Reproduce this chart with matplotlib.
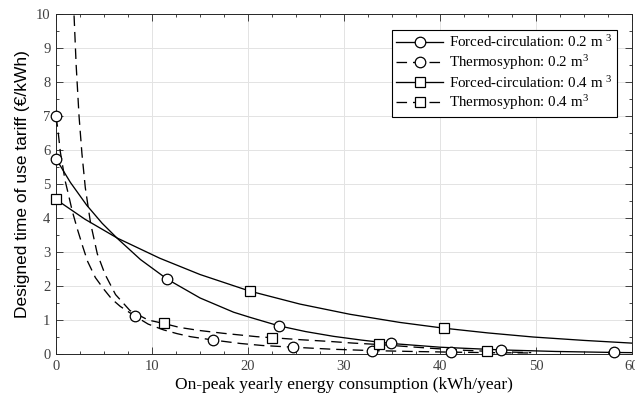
import matplotlib
matplotlib.use("Agg")
import matplotlib.pyplot as plt
from matplotlib.lines import Line2D
from matplotlib.ticker import MultipleLocator

plt.rcParams['mathtext.fontset'] = 'custom'
plt.rcParams['mathtext.rm'] = 'Liberation Serif'
plt.rcParams['mathtext.it'] = 'Liberation Serif:italic'

# ---- data ----
forced_02_x = [0, 1.5, 3.2, 4.8, 6.4, 8.8, 11.6, 15.0, 18.5, 20.2, 23.2, 26.0, 28.9, 31.8, 34.9, 40.0, 46.4, 52.0, 58.1, 60.0]
forced_02_y = [5.75, 5.05, 4.38, 3.85, 3.4, 2.78, 2.2, 1.65, 1.23, 1.08, 0.83, 0.66, 0.52, 0.41, 0.31, 0.2, 0.12, 0.075, 0.045, 0.04]
forced_02_mx = [0, 11.6, 23.2, 34.9, 46.4, 58.1]
forced_02_my = [5.75, 2.2, 0.83, 0.31, 0.12, 0.045]

thermo_02_x = [0, 0.2, 0.45, 0.95, 1.25, 1.7, 2.2, 2.8, 3.3, 4.1, 5.0, 5.8, 6.7, 8.2, 9.6, 11.2, 12.6, 14.0, 16.4, 19.2, 21.5, 24.7, 28.8, 32.9, 37.0, 41.1, 45.0, 49.5]
thermo_02_y = [7.0, 6.6, 5.95, 5.1, 4.75, 4.2, 3.7, 3.15, 2.72, 2.25, 1.9, 1.62, 1.4, 1.12, 0.88, 0.71, 0.6, 0.51, 0.41, 0.31, 0.25, 0.2, 0.14, 0.1, 0.075, 0.055, 0.04, 0.03]
thermo_02_mx = [0, 8.2, 16.4, 24.7, 32.9, 41.1]
thermo_02_my = [7.0, 1.12, 0.41, 0.2, 0.1, 0.055]

forced_04_x = [0, 3.0, 6.4, 10.8, 15.0, 20.2, 25.4, 30.6, 35.8, 40.4, 45.0, 49.7, 55.0, 60.0]
forced_04_y = [4.55, 3.97, 3.41, 2.82, 2.34, 1.85, 1.47, 1.17, 0.93, 0.76, 0.62, 0.5, 0.4, 0.32]
forced_04_mx = [0, 20.2, 40.4]
forced_04_my = [4.55, 1.85, 0.76]

thermo_04_x = [1.72, 1.875, 2.1, 2.4, 2.7, 3.05, 3.6, 4.3, 5.1, 6.2, 7.7, 9.6, 11.2, 12.9, 15.0, 17.4, 20.9, 22.5, 25.5, 28.5, 31.0, 33.6, 36.5, 39.5, 42.5, 44.9, 47.0, 49.5]
thermo_04_y = [11.0, 10.0, 8.5, 7.0, 5.9, 4.9, 3.85, 2.95, 2.35, 1.75, 1.28, 1.0, 0.9, 0.78, 0.69, 0.61, 0.51, 0.48, 0.42, 0.37, 0.32, 0.28, 0.22, 0.16, 0.11, 0.08, 0.06, 0.04]
thermo_04_mx = [11.2, 22.5, 33.6, 44.9]
thermo_04_my = [0.9, 0.48, 0.28, 0.08]

labels = ["Forced-circulation: 0.2 m $^3$",
          "Thermosyphon: 0.2 m$^3$",
          "Forced-circulation: 0.4 m $^3$",
          "Thermosyphon: 0.4 m$^3$"]

x_ticks = [0, 10, 20, 30, 40, 50, 60]
y_ticks = [0, 1, 2, 3, 4, 5, 6, 7, 8, 9, 10]

# ---- figure ----
fig = plt.figure(figsize=(6.35, 4.03), dpi=100)
ax = fig.add_axes([0.0882, 0.1216, 0.9071, 0.8429])

dash = (0, (8, 4.5))
lw = 0.95
series = [
    (forced_02_x, forced_02_y, forced_02_mx, forced_02_my, '-', 'o', 7.6),
    (thermo_02_x, thermo_02_y, thermo_02_mx, thermo_02_my, dash, 'o', 7.6),
    (forced_04_x, forced_04_y, forced_04_mx, forced_04_my, '-', 's', 6.8),
    (thermo_04_x, thermo_04_y, thermo_04_mx, thermo_04_my, dash, 's', 6.8),
]
handles = []
for (x, y, mx, my, ls, mk, ms), lab in zip(series, labels):
    ax.plot(x, y, color='black', lw=lw, linestyle=ls, zorder=3)
    ax.plot(mx, my, linestyle='none', marker=mk, ms=ms, mfc='white',
            mec='black', mew=0.9, zorder=4, clip_on=False)
    handles.append(Line2D([], [], color='black', lw=lw, linestyle=ls,
                          marker=mk, ms=ms, mfc='white', mec='black', mew=0.9))

ax.set_xlim(0, 60)
ax.set_ylim(0, 10)
ax.set_xticks(x_ticks)
ax.set_yticks(y_ticks)
ax.xaxis.set_minor_locator(MultipleLocator(2.5))
ax.yaxis.set_minor_locator(MultipleLocator(0.5))

tick_color = '#404040'
ax.tick_params(which='both', direction='in', top=True, right=True,
               color='#262626', width=0.6)
ax.tick_params(which='major', length=5, labelsize=10.5, labelcolor=tick_color, pad=4)
ax.tick_params(which='minor', length=2.5)
for lab in ax.get_xticklabels() + ax.get_yticklabels():
    lab.set_family('Liberation Serif')

for s in ax.spines.values():
    s.set_color('#262626')
    s.set_linewidth(0.7)

ax.grid(True, which='major', color='#e3e3e3', lw=0.7, zorder=0)
ax.set_axisbelow(True)

ax.set_xlabel("On-peak yearly energy consumption (kWh/year)",
              family='Liberation Serif', fontsize=12.5, labelpad=3)
ax.set_ylabel("Designed time of use tariff (€/kWh)",
              family='Liberation Sans', fontsize=12.5, labelpad=4)

leg = ax.legend(handles, labels, loc='upper right',
                bbox_to_anchor=(0.974, 0.954), borderaxespad=0,
                prop={'family': 'Liberation Serif', 'size': 10.8},
                fancybox=False, edgecolor='black', framealpha=1,
                handlelength=3.1, labelspacing=0.18, handletextpad=0.4,
                borderpad=0.3)
leg.get_frame().set_linewidth(0.8)

fig.savefig("out.png", dpi=100)
